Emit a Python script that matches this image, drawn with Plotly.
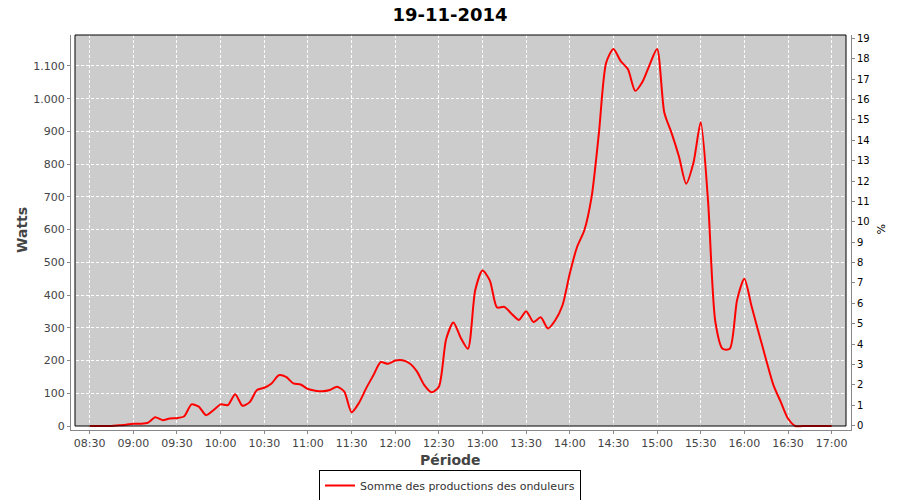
import pandas as pd
import plotly.graph_objects as go

# ---- data ----
day = "2014-11-19"
times = pd.date_range(f"{day} 08:30", f"{day} 17:00", freq="5min")
watts = [
    0, 0, 0, 0, 2, 4,
    7, 7, 10, 27, 18, 23, 24, 30, 66, 59, 33, 48,
    66, 64, 97, 62, 73, 110, 117, 130, 155, 150, 130, 127,
    113, 108, 106, 110, 120, 105, 42, 70, 115, 155, 195, 190,
    200, 201, 191, 166, 125, 103, 120, 265, 316, 270, 236, 415,
    475, 445, 362, 364, 343, 324, 351, 318, 332, 298, 323, 369,
    466, 547, 598, 700, 894, 1110, 1152, 1115, 1090, 1024, 1052, 1105,
    1152, 957, 895, 824, 740, 804, 928, 690, 320, 236, 236, 385,
    450, 365, 283, 202, 125, 74, 23, 0, 0, 0, 0, 0,
    0,
]
series_name = "Somme des productions des onduleurs"
title = "19-11-2014"
x_title = "Période"
y_title = "Watts"
y2_title = "%"

# ---- layout geometry (pixels) ----
W, H = 900, 500
L, R, T, B = 71, 49, 35, 70          # axis-line box
IN_L, IN_R, IN_T, IN_B = 75, 846, 35, 426   # inner plot box
pw, ph = W - L - R, H - T - B

def px(x):
    return (x - L) / pw

def py(y):
    return (H - B - y) / ph

fig = go.Figure()
fig.add_trace(go.Scatter(
    x=times, y=watts, mode="lines", name=series_name,
    line=dict(color="#FF0000", width=2, shape="spline", smoothing=0.7),
))
# empty trace so that the right-hand % axis is drawn
fig.add_trace(go.Scatter(x=[], y=[], yaxis="y2", showlegend=False,
                         hoverinfo="skip", mode="lines"))

axis_font = dict(family="DejaVu Sans", size=11, color="#444444")
fig.update_layout(
    width=W, height=H,
    margin=dict(l=L, r=R, t=T, b=B, autoexpand=False),
    paper_bgcolor="white", plot_bgcolor="white",
    separators=",.",
    showlegend=True,
    title=dict(text=f"<b>{title}</b>", x=0.5, xanchor="center",
               y=1 - 15 / H, yanchor="middle",
               font=dict(family="DejaVu Sans", size=18, color="black")),
    xaxis=dict(
        type="date",
        range=[f"{day} 08:17:09", f"{day} 17:13:18"],
        tick0=f"{day} 08:30", dtick=30 * 60 * 1000, tickformat="%H:%M",
        showgrid=True, gridcolor="white", griddash="3px,2px", gridwidth=1,
        zeroline=False, showline=True, linecolor="#888888", linewidth=1,
        ticks="outside", ticklen=3, tickcolor="#888888",
        tickfont=axis_font,
    ),
    yaxis=dict(
        range=[-12.2, 1194.7], dtick=100, tickformat=",d",
        showgrid=True, gridcolor="white", griddash="3px,2px", gridwidth=1,
        zeroline=False, showline=True, linecolor="#888888", linewidth=1,
        ticks="outside", ticklen=3, tickcolor="#888888",
        tickfont=axis_font,
    ),
    yaxis2=dict(
        overlaying="y", side="right", range=[-0.21, 19.16], dtick=1,
        showgrid=False, zeroline=False, showline=True,
        linecolor="#888888", linewidth=1,
        ticks="outside", ticklen=3, tickcolor="#888888",
        tickfont=dict(family="DejaVu Sans", size=10, color="black"),
    ),
    legend=dict(
        orientation="h", x=px(450), xanchor="center", y=py(470), yanchor="top",
        bgcolor="white", bordercolor="black", borderwidth=1,
        font=dict(family="DejaVu Sans", size=11, color="#333333"),
        itemwidth=30,
    ),
    shapes=[
        dict(type="rect", xref="paper", yref="paper",
             x0=px(IN_L), x1=px(IN_R), y0=py(IN_B), y1=py(IN_T),
             fillcolor="#CCCCCC", line=dict(width=0), layer="below"),
        dict(type="rect", xref="paper", yref="paper",
             x0=px(IN_L), x1=px(IN_R), y0=py(IN_B), y1=py(IN_T),
             fillcolor="rgba(0,0,0,0)", line=dict(color="black", width=1),
             layer="above"),
    ],
    annotations=[
        dict(text=f"<b>{y_title}</b>", xref="paper", yref="paper",
             x=px(22), y=py(230), xanchor="center", yanchor="middle",
             showarrow=False, textangle=-90,
             font=dict(family="DejaVu Sans", size=14, color="#444444")),
        dict(text=f"<b>{x_title}</b>", xref="paper", yref="paper",
             x=px(450), y=py(460), xanchor="center", yanchor="middle",
             showarrow=False,
             font=dict(family="DejaVu Sans", size=14, color="#444444")),
        dict(text=y2_title, xref="paper", yref="paper",
             x=px(880), y=py(229), xanchor="center", yanchor="middle",
             showarrow=False, textangle=90,
             font=dict(family="DejaVu Sans", size=11, color="black")),
    ],
)

fig.write_html(
    "out.html",
    config={"displayModeBar": False},
    post_script="document.body.style.margin='0px';"
                "document.body.style.overflow='hidden';",
)
